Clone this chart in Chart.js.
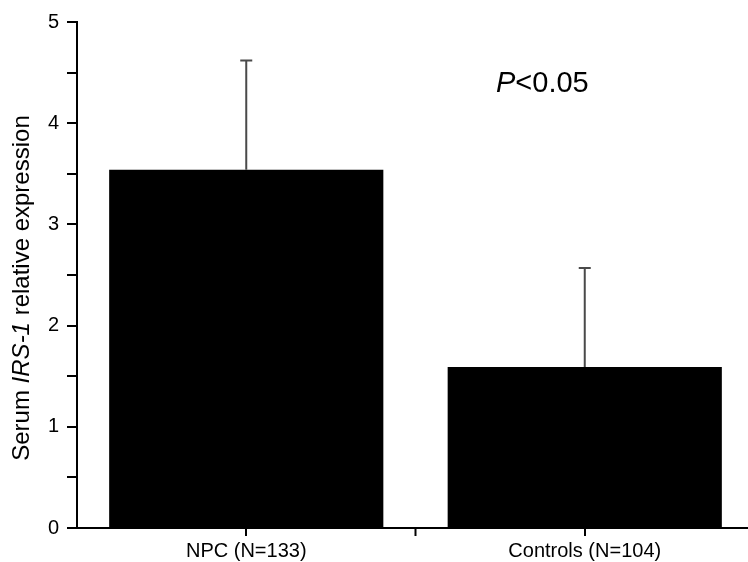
<!DOCTYPE html>
<html>
<head>
<meta charset="utf-8">
<title>Serum IRS-1 relative expression</title>
<script src="https://cdn.jsdelivr.net/npm/chart.js@4/dist/chart.umd.min.js"></script>
<style>
  html, body { margin: 0; padding: 0; background: #fff; overflow: hidden; }
  canvas { display: block; }
</style>
</head>
<body>
<canvas id="chart" width="754" height="562"></canvas>
<script>
// data
const groups = ['NPC (N=133)', 'Controls (N=104)'];
const means = [3.54, 1.59];
const sdUp = [1.08, 0.98];
const yTicks = [0, 1, 2, 3, 4, 5];
const pText = ['P', '<0.05'];

const FONT = 'Arial, "Liberation Sans", sans-serif';

// upward-only error bars
const errorBars = {
  id: 'errorBars',
  afterDatasetsDraw(chart) {
    const ctx = chart.ctx;
    const y = chart.scales.y;
    const meta = chart.getDatasetMeta(0);
    ctx.save();
    ctx.strokeStyle = '#4a4a4a';
    ctx.lineWidth = 2;
    meta.data.forEach((bar, i) => {
      const top = y.getPixelForValue(means[i] + sdUp[i]);
      ctx.beginPath();
      ctx.moveTo(bar.x, bar.y);
      ctx.lineTo(bar.x, top);
      ctx.moveTo(bar.x - 6, top);
      ctx.lineTo(bar.x + 6, top);
      ctx.stroke();
    });
    ctx.restore();
  }
};

// mid tick on the x axis + y title with italic gene name + P value
const extras = {
  id: 'extras',
  afterDraw(chart) {
    const ctx = chart.ctx;
    const x = chart.scales.x;
    const area = chart.chartArea;
    ctx.save();

    // tick between the two categories
    const mid = (x.getPixelForValue(0) + x.getPixelForValue(1)) / 2;
    ctx.strokeStyle = '#000';
    ctx.lineWidth = 2;
    ctx.beginPath();
    ctx.moveTo(mid, area.bottom);
    ctx.lineTo(mid, area.bottom + 8);
    ctx.stroke();

    // y title
    const parts = [
      ['Serum ', 'normal'],
      ['IRS-1', 'italic'],
      [' relative expression', 'normal']
    ];
    ctx.fillStyle = '#000';
    ctx.textBaseline = 'middle';
    ctx.textAlign = 'left';
    let total = 0;
    parts.forEach(p => {
      ctx.font = p[1] + ' 24px ' + FONT;
      total += ctx.measureText(p[0]).width;
    });
    ctx.translate(22, 288);
    ctx.rotate(-Math.PI / 2);
    let cx = -total / 2;
    parts.forEach(p => {
      ctx.font = p[1] + ' 24px ' + FONT;
      ctx.fillText(p[0], cx, 0);
      cx += ctx.measureText(p[0]).width;
    });
    ctx.setTransform(1, 0, 0, 1, 0, 0);

    // P value
    ctx.textBaseline = 'alphabetic';
    ctx.font = 'italic 29px ' + FONT;
    ctx.fillText(pText[0], 496, 92);
    const w = ctx.measureText(pText[0]).width;
    ctx.font = '29px ' + FONT;
    ctx.fillText(pText[1], 496 + w, 92);
    ctx.restore();
  }
};

const ctx = document.getElementById('chart').getContext('2d');
const chart = new Chart(ctx, {
  type: 'bar',
  data: {
    labels: groups,
    datasets: [{
      data: means,
      backgroundColor: '#000',
      borderWidth: 0,
      barPercentage: 0.81,
      categoryPercentage: 1.0
    }]
  },
  options: {
    responsive: false,
    devicePixelRatio: 1,
    animation: false,
    layout: { padding: { top: 22, right: 0, left: 0, bottom: 0 } },
    plugins: {
      legend: { display: false },
      tooltip: { enabled: false }
    },
    scales: {
      x: {
        offset: true,
        grid: {
          display: true,
          offset: false,
          drawOnChartArea: false,
          drawTicks: true,
          tickLength: 8,
          color: '#000',
          lineWidth: 2
        },
        border: { display: true, color: '#000', width: 2 },
        ticks: {
          color: '#000',
          font: { family: FONT, size: 20 },
          padding: 3,
          maxRotation: 0
        },
        afterFit(scale) { scale.height = 34; }
      },
      y: {
        min: yTicks[0],
        max: yTicks[yTicks.length - 1],
        grid: {
          display: true,
          drawOnChartArea: false,
          drawTicks: true,
          tickLength: 10,
          color: '#000',
          lineWidth: 2
        },
        border: { display: true, color: '#000', width: 2 },
        ticks: {
          stepSize: 0.5,
          color: '#000',
          font: { family: FONT, size: 20 },
          padding: 8,
          callback: v => yTicks.includes(v) ? v : ''
        },
        afterFit(scale) { scale.width = 77; }
      }
    }
  },
  plugins: [errorBars, extras]
});
</script>
</body>
</html>
